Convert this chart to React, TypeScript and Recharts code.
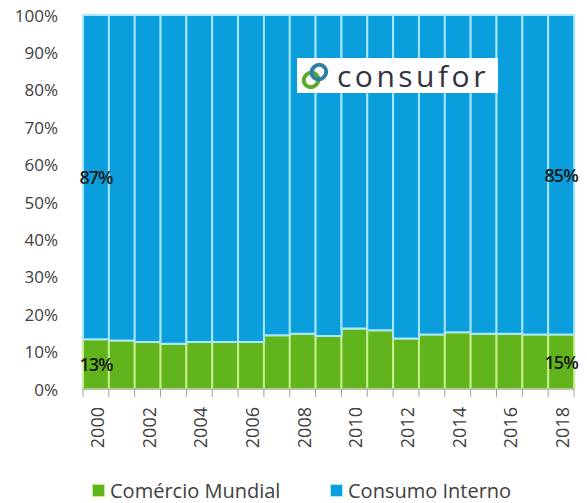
import React from 'react';
import { BarChart, Bar, XAxis, YAxis, LabelList } from 'recharts';

const years = ['2000', '2001', '2002', '2003', '2004', '2005', '2006', '2007', '2008', '2009', '2010', '2011', '2012', '2013', '2014', '2015', '2016', '2017', '2018'];
const comercioMundial = [13.3, 13.0, 12.6, 12.1, 12.6, 12.6, 12.6, 14.4, 14.8, 14.2, 16.2, 15.7, 13.5, 14.6, 15.2, 14.8, 14.8, 14.6, 14.6];
const consumoInterno = [86.7, 87.0, 87.4, 87.9, 87.4, 87.4, 87.4, 85.6, 85.2, 85.8, 83.8, 84.3, 86.5, 85.4, 84.8, 85.2, 85.2, 85.4, 85.4];
const yTicks = [0, 10, 20, 30, 40, 50, 60, 70, 80, 90, 100];
const seriesNames = ['Comércio Mundial', 'Consumo Interno'];

const data = years.map((y, i) => ({ year: y, cm: comercioMundial[i], ci: consumoInterno[i] }));

const W = 587;
const H = 503;
const MARGIN = { top: 15, right: 13, left: 0, bottom: 30 };
const Y_W = 83;
const PLOT_W = W - MARGIN.left - MARGIN.right - Y_W;
const BW = PLOT_W / years.length;

const BLUE = '#0a9fdc';
const GREEN = '#62b41c';
const BLUE_SEP = '#a9e8fb';
const GREEN_SEP = '#c6ef8e';
const TXT = '#404040';
const FONT = '"Open Sans", sans-serif';

function YearTick(props: any) {
  const { x, y, payload } = props;
  const i = payload.index;
  return (
    <g>
      <line x1={x - BW / 2} x2={x - BW / 2} y1={y} y2={y + 8} stroke="#a0a0a0" strokeWidth={1} />
      {i === years.length - 1 && (
        <line x1={x + BW / 2} x2={x + BW / 2} y1={y} y2={y + 8} stroke="#a0a0a0" strokeWidth={1} />
      )}
      {i % 2 === 0 && (
        <text
          transform={`translate(${x + 1},${y + 18}) rotate(-90)`}
          textAnchor="end"
          dominantBaseline="central"
          fill={TXT}
          fontSize={18}
          fontFamily={FONT}
        >
          {payload.value}
        </text>
      )}
    </g>
  );
}

function PctTick(props: any) {
  const { x, y, payload } = props;
  return (
    <text x={x - 25} y={y} textAnchor="end" dominantBaseline="central" fill={TXT} fontSize={17} fontFamily={FONT}>
      {`${payload.value}%`}
    </text>
  );
}

function EndLabel(props: any) {
  const { x, y, width, height, value, index } = props;
  if (index !== 0 && index !== years.length - 1) return null;
  return (
    <text
      x={x + width / 2}
      y={y + height / 2}
      textAnchor="middle"
      dominantBaseline="central"
      fill="#1a1a1a"
      fontSize={18}
      fontWeight={600}
      fontFamily={FONT}
      letterSpacing={-1}
    >
      {`${Math.round(value)}%`}
    </text>
  );
}

function ChartLegend() {
  const colors = [GREEN, BLUE];
  const seps = [GREEN_SEP, BLUE_SEP];
  return (
    <div
      style={{
        position: 'absolute',
        left: 0,
        top: 475,
        width: W,
        height: 30,
        display: 'flex',
        alignItems: 'center',
        paddingLeft: 92,
        boxSizing: 'border-box',
        fontFamily: FONT,
        fontSize: 20,
        color: TXT,
      }}
    >
      {seriesNames.map((n, i) => (
        <div key={n} style={{ display: 'flex', alignItems: 'center', width: i === 0 ? 238 : 'auto' }}>
          <span style={{ display: 'inline-block', width: 11, height: 11, background: colors[i], border: `1px solid ${seps[i]}`, marginRight: 5 }} />
          <span>{n}</span>
        </div>
      ))}
    </div>
  );
}

function Logo() {
  return (
    <div
      style={{
        position: 'absolute',
        left: 297,
        top: 58,
        width: 201,
        height: 35,
        background: '#ffffff',
        display: 'flex',
        alignItems: 'center',
      }}
    >
      <svg width={30} height={30} style={{ marginLeft: 3, flex: 'none' }} viewBox="0 0 30 30">
        <g transform="rotate(-45 15 15)">
          <rect x={2} y={8} width={15} height={14} rx={7} fill="none" stroke="#5aab2a" strokeWidth={4} />
          <rect x={13} y={8} width={15} height={14} rx={7} fill="none" stroke="#2f7fa8" strokeWidth={4} />
        </g>
      </svg>
      <span style={{ marginLeft: 7, fontFamily: FONT, fontSize: 30, color: '#34343f', letterSpacing: 3.5, lineHeight: '32px', whiteSpace: 'nowrap' }}>
        consufor
      </span>
    </div>
  );
}

export default function App() {
  return (
    <div style={{ position: 'absolute', left: 0, top: 0, width: W, height: H, background: '#fff' }}>
      <BarChart width={W} height={H} data={data} margin={MARGIN} barCategoryGap={0} barGap={0}>
        <XAxis
          dataKey="year"
          interval={0}
          height={84}
          tickSize={0}
          tickMargin={0}
          tickLine={false}
          axisLine={{ stroke: '#a0a0a0' }}
          tick={<YearTick />}
        />
        <YAxis
          width={Y_W}
          domain={[0, 100]}
          ticks={yTicks}
          axisLine={false}
          tickLine={false}
          tickSize={0}
          tickMargin={0}
          tick={<PctTick />}
        />
        <Bar dataKey="cm" name={seriesNames[0]} stackId="a" fill={GREEN} stroke={GREEN_SEP} strokeWidth={2} isAnimationActive={false}>
          <LabelList dataKey="cm" content={<EndLabel />} />
        </Bar>
        <Bar dataKey="ci" name={seriesNames[1]} stackId="a" fill={BLUE} stroke={BLUE_SEP} strokeWidth={2} isAnimationActive={false}>
          <LabelList dataKey="ci" content={<EndLabel />} />
        </Bar>
      </BarChart>
      <Logo />
      <ChartLegend />
    </div>
  );
}
